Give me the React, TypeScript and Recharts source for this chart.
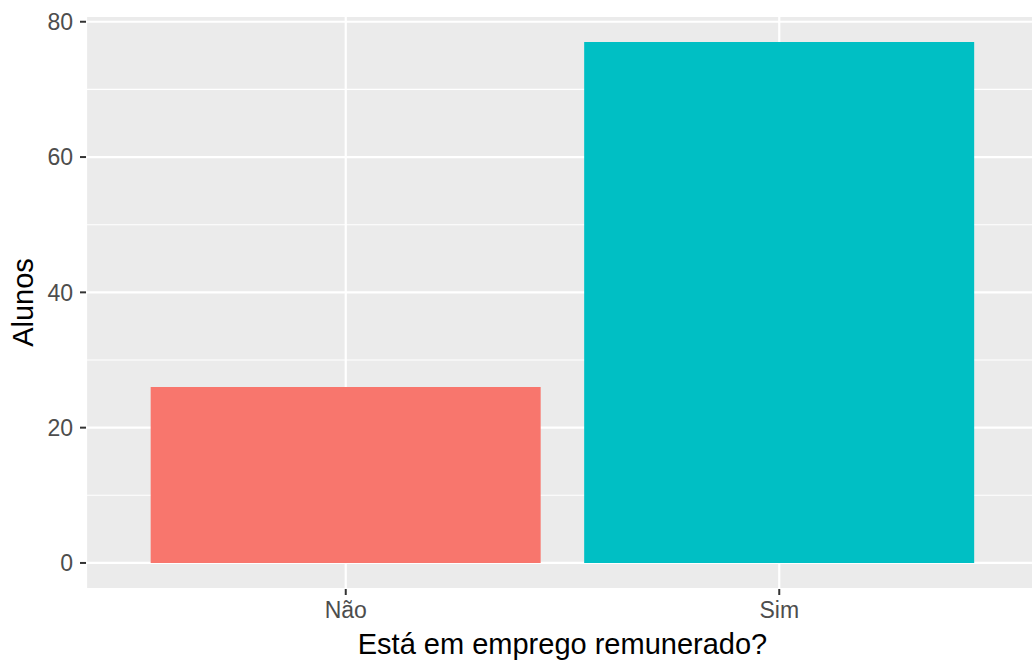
import { Bar, BarChart, CartesianGrid, Cell, XAxis, YAxis } from 'recharts'

const categories = ['Não', 'Sim']
const alunos = [26, 77]
const barColors = ['#F8766D', '#00BFC4']
const yTicks = [0, 20, 40, 60, 80]
const yMinorTicks = [10, 30, 50, 70]
const yDomain = [-3.85, 80.85]

const data = categories.map((c, i) => ({ emprego: c, alunos: alunos[i] }))

const font = '"Liberation Sans", Arial, Helvetica, sans-serif'

function minorLines({ yAxis, offset }: any) {
  const s = yAxis && yAxis.scale
  if (typeof s === 'function') return yMinorTicks.map((v) => s(v))
  if (s && typeof s.map === 'function') return yMinorTicks.map((v) => s.map(v))
  const [lo, hi] = yDomain
  return yMinorTicks.map((v) => offset.top + (offset.height * (hi - v)) / (hi - lo))
}

export default function App() {
  return (
    <div
      style={{
        position: 'fixed',
        left: 0,
        top: 0,
        width: 1032,
        height: 663,
        overflow: 'hidden',
        background: '#fff',
      }}
    >
      <BarChart
        width={1040}
        height={663}
        data={data}
        margin={{ top: 16, right: 1, bottom: 0, left: 0 }}
        barCategoryGap="5%"
      >
        <CartesianGrid
          vertical={false}
          fill="#EBEBEB"
          stroke="#FFFFFF"
          strokeWidth={1.1}
          horizontalCoordinatesGenerator={minorLines}
        />
        <CartesianGrid stroke="#FFFFFF" strokeWidth={2.2} />
        <XAxis
          dataKey="emprego"
          padding={{ left: 43, right: 43 }}
          height={74}
          axisLine={false}
          tickSize={6}
          tickMargin={7}
          tickLine={{ stroke: '#333333', strokeWidth: 2 }}
          tick={{ fill: '#4D4D4D', fontSize: 23, fontFamily: font }}
          label={{
            content: ({ viewBox }: any) => (
              <text
                x={viewBox.x + viewBox.width / 2}
                y={654}
                textAnchor="middle"
                fontSize={29}
                fontFamily={font}
                fill="#000000"
              >
                Está em emprego remunerado?
              </text>
            ),
          }}
        />
        <YAxis
          type="number"
          domain={yDomain}
          ticks={yTicks}
          allowDataOverflow
          width={86}
          axisLine={false}
          tickSize={6}
          tickMargin={7}
          tickLine={{ stroke: '#333333', strokeWidth: 2 }}
          tick={{ fill: '#4D4D4D', fontSize: 23, fontFamily: font }}
          label={{
            content: ({ viewBox }: any) => {
              const cy = viewBox.y + viewBox.height / 2
              return (
                <text
                  x={33}
                  y={cy}
                  transform={`rotate(-90, 33, ${cy})`}
                  textAnchor="middle"
                  fontSize={29}
                  fontFamily={font}
                  fill="#000000"
                >
                  Alunos
                </text>
              )
            },
          }}
        />
        <Bar dataKey="alunos" isAnimationActive={false}>
          {data.map((d, i) => (
            <Cell key={d.emprego} fill={barColors[i]} />
          ))}
        </Bar>
      </BarChart>
    </div>
  )
}
